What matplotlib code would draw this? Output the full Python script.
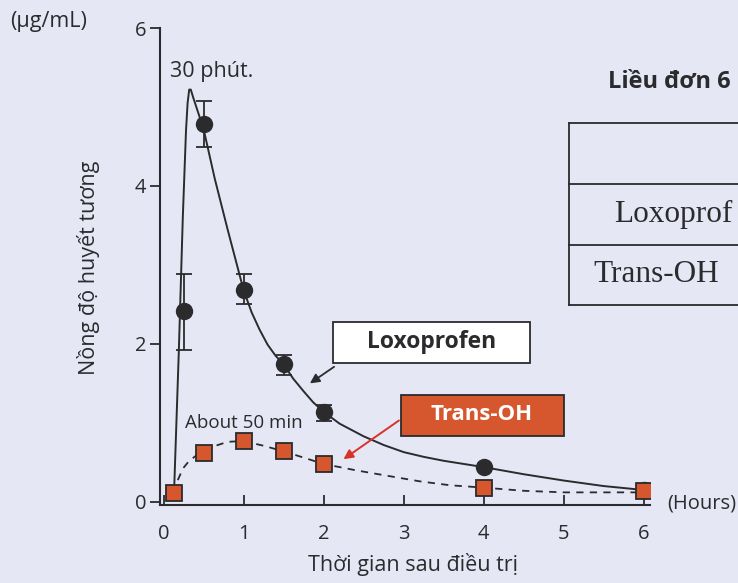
import matplotlib
matplotlib.use("Agg")
import matplotlib.pyplot as plt
from matplotlib.patches import Rectangle
from matplotlib.lines import Line2D

plt.rcParams['font.family'] = ['Open Sans', 'DejaVu Sans']

# ---- data ----
lox_t = [0.25, 0.5, 1.0, 1.5, 2.0, 4.0, 6.0]
lox_c = [2.42, 4.78, 2.68, 1.74, 1.14, 0.44, 0.15]
lox_err_hi = [0.46, 0.29, 0.21, 0.12, 0.09, 0.0, 0.0]
lox_err_lo = [0.50, 0.29, 0.18, 0.13, 0.12, 0.0, 0.0]

# smooth fitted curve as drawn in the picture
lox_curve_t = [0.13, 0.19, 0.24, 0.28, 0.30, 0.32, 0.34, 0.37, 0.5, 0.64, 0.8, 1.0,
               1.1, 1.2, 1.3, 1.4, 1.5, 1.62, 1.75, 1.87, 2.0, 2.2, 2.5, 2.75,
               3.0, 3.25, 3.5, 4.0, 4.5, 5.0, 5.5, 6.0]
lox_curve_c = [0.10, 1.9, 3.6, 4.7, 5.05, 5.22, 5.22, 5.12, 4.72, 4.09, 3.45, 2.68,
               2.40, 2.18, 1.99, 1.85, 1.74, 1.56, 1.40, 1.26, 1.14, 0.99, 0.83, 0.72,
               0.63, 0.57, 0.52, 0.44, 0.35, 0.27, 0.20, 0.15]

toh_t = [0.13, 0.5, 1.0, 1.5, 2.0, 4.0, 6.0]
toh_c = [0.11, 0.62, 0.77, 0.64, 0.48, 0.18, 0.14]

toh_curve_t = [0.13, 0.18, 0.24, 0.32, 0.4, 0.5, 0.65, 0.8, 1.0, 1.25, 1.5, 1.75,
               2.0, 2.4, 2.74, 3.2, 3.58, 4.0, 4.5, 5.0, 5.5, 6.0]
toh_curve_c = [0.11, 0.28, 0.42, 0.52, 0.58, 0.64, 0.71, 0.76, 0.77, 0.71, 0.64, 0.56,
               0.48, 0.40, 0.34, 0.26, 0.21, 0.18, 0.14, 0.12, 0.12, 0.12]

x_ticks = [0, 1, 2, 3, 4, 5, 6]
y_ticks = [0, 2, 4, 6]

BG = '#e5e7f4'
ORANGE = '#d6572d'
INK = '#2b2b2e'

fig = plt.figure(figsize=(7.38, 5.83), dpi=100, facecolor=BG)
ax = fig.add_axes([160/738, 78/583, 490/738, 477/583], facecolor=BG)
ax.set_xlim(-0.045, 6.08)
ax.set_ylim(-0.04, 6.0)

for s in ['top', 'right']:
    ax.spines[s].set_visible(False)
for s in ['left', 'bottom']:
    ax.spines[s].set_color(INK)
    ax.spines[s].set_linewidth(1.5)

ax.set_xticks(x_ticks)
ax.set_yticks(y_ticks)
ax.tick_params(axis='x', direction='in', length=7, width=1.3, colors=INK,
               labelsize=14.5, pad=14)
ax.tick_params(axis='y', direction='out', length=7, width=1.3, colors=INK,
               labelsize=14.5, pad=3)

# curves
ax.plot(lox_curve_t, lox_curve_c, color=INK, lw=1.4, zorder=2)
ax.plot(toh_curve_t, toh_curve_c, color=INK, lw=1.3, ls=(0, (4, 3.5)), zorder=2)

# points
ax.errorbar(lox_t, lox_c, yerr=[lox_err_lo, lox_err_hi], fmt='o', color=INK,
            ms=11.5, ecolor=INK, elinewidth=1.3, capsize=6, capthick=1.3, zorder=4)
ax.plot(toh_t, toh_c, 's', ms=12, mfc=ORANGE, mec=INK, mew=1.3, zorder=5)

# annotations
ax.text(0.08, 5.45, '30 phút.', fontsize=15.5, color=INK, ha='left', va='center')
ax.text(0.27, 1.0, 'About 50 min', fontsize=13.5, color=INK, ha='left', va='center')

ax.add_patch(Rectangle((2.12, 1.76), 2.46, 0.52, fc='white', ec=INK, lw=1.3, zorder=6))
ax.text(3.35, 2.02, 'Loxoprofen', fontsize=16.5, fontweight='bold', color=INK,
        ha='center', va='center', zorder=7)
ax.annotate('', xy=(1.80, 1.48), xytext=(2.16, 1.73),
            arrowprops=dict(arrowstyle='-|>', color=INK, lw=1.3, mutation_scale=14), zorder=6)

ax.add_patch(Rectangle((2.97, 0.84), 2.03, 0.51, fc=ORANGE, ec=INK, lw=1.3, zorder=6))
ax.text(3.98, 1.10, 'Trans-OH', fontsize=16, fontweight='bold', color='white',
        ha='center', va='center', zorder=7)
ax.annotate('', xy=(2.22, 0.52), xytext=(2.97, 1.05),
            arrowprops=dict(arrowstyle='-|>', color='#d8322a', lw=1.4, mutation_scale=14), zorder=6)

# axis labels
fig.text(10/738, 1 - 21/583, '(μg/mL)', fontsize=15.5, color=INK, ha='left', va='center')
fig.text(88/738, 1 - 268/583, 'Nồng độ huyết tương', fontsize=15.5, color=INK,
         rotation=90, ha='center', va='center')
fig.text(413/738, 1 - 564/583, 'Thời gian sau điều trị', fontsize=15.5, color=INK,
         ha='center', va='center')
fig.text(667/738, 1 - 503/583, '(Hours)', fontsize=14.5, color=INK, ha='left', va='center')

# partial table at the right (cut by the page edge in the reference)
fig.text(608/738, 1 - 82/583, 'Liều đơn 6', fontsize=17, fontweight='bold', color=INK,
         ha='left', va='center')
tx0 = 569/738
for yy in [123, 184, 245, 305]:
    fig.add_artist(Line2D([tx0, 1.0], [1 - yy/583, 1 - yy/583], color=INK, lw=1.3))
fig.add_artist(Line2D([tx0, tx0], [1 - 123/583, 1 - 305/583], color=INK, lw=1.3))
fig.text(614/738, 1 - 214/583, 'Loxoprof', fontsize=22.5, family='Liberation Serif',
         color=INK, ha='left', va='center')
fig.text(593/738, 1 - 274/583, 'Trans-OH', fontsize=22.5, family='Liberation Serif',
         color=INK, ha='left', va='center')

fig.savefig('out.png', dpi=100, facecolor=BG)
